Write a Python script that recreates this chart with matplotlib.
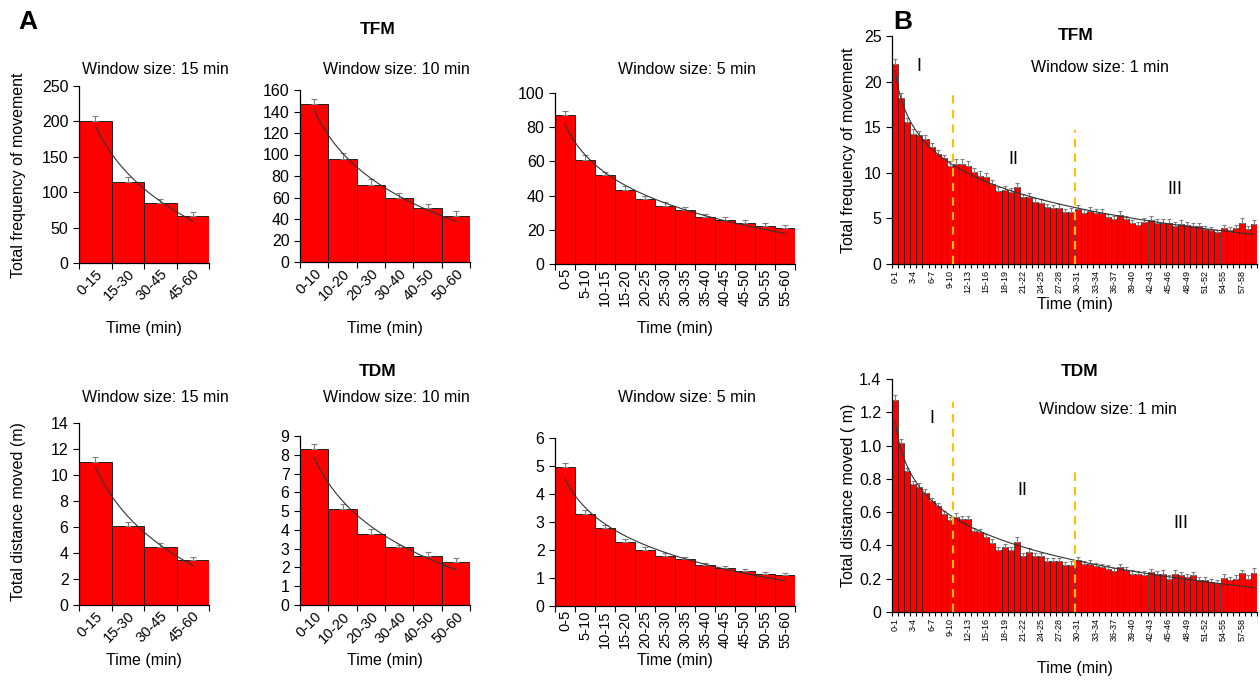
import numpy as np
import matplotlib
matplotlib.use("Agg")
import matplotlib.pyplot as plt

plt.rcParams['font.family'] = ['Liberation Sans', 'DejaVu Sans']

# ---- data: panel A, total frequency of movement (TFM)
tfm15 = [200, 115, 85, 67]
tfm15_err = [7, 7, 6, 5]
tfm10 = [147, 96, 72, 60, 50, 43]
tfm10_err = [5, 5, 5, 4, 4, 4]
tfm5 = [87, 61, 52, 43.5, 38, 34, 31.5, 27.5, 25.5, 24, 22, 21]
tfm5_err = [2.5, 2.5, 2, 2, 2, 2, 2, 1.5, 2, 2, 2, 2]

# ---- data: panel A, total distance moved (TDM)
tdm15 = [11.0, 6.1, 4.5, 3.5]
tdm15_err = [0.4, 0.3, 0.3, 0.2]
tdm10 = [8.3, 5.1, 3.8, 3.1, 2.6, 2.3]
tdm10_err = [0.3, 0.3, 0.25, 0.12, 0.2, 0.2]
tdm5 = [4.95, 3.3, 2.8, 2.3, 2.0, 1.8, 1.68, 1.47, 1.36, 1.26, 1.15, 1.1]
tdm5_err = [0.15, 0.12, 0.1, 0.1, 0.1, 0.08, 0.08, 0.06, 0.07, 0.07, 0.07, 0.07]

lab15 = ['0-15', '15-30', '30-45', '45-60']
lab10 = ['0-10', '10-20', '20-30', '30-40', '40-50', '50-60']
lab5 = ['0-5', '5-10', '10-15', '15-20', '20-25', '25-30', '30-35',
        '35-40', '40-45', '45-50', '50-55', '55-60']

# ---- data: panel B, 1 min windows
tfm1 = [21.9, 18.2, 15.6, 14.3, 14.1, 13.7, 12.8, 12.1, 11.6, 10.8,
        11.0, 11.0, 10.8, 10.1, 9.7, 9.5, 8.8, 8.0, 8.1, 7.9,
        8.4, 7.3, 7.3, 6.8, 6.7, 6.2, 6.1, 6.1, 5.7, 5.7,
        6.0, 5.6, 5.8, 5.6, 5.6, 5.1, 4.9, 5.4, 4.9, 4.55,
        4.3, 4.66, 4.85, 4.55, 4.48, 4.55, 4.19, 4.41, 4.3, 4.19,
        4.19, 3.83, 3.75, 3.46, 3.94, 3.75, 3.94, 4.55, 3.83, 4.4]
tfm1_err = [0.6, 0.5, 0.45, 0.5, 0.5, 0.45, 0.45, 0.45, 0.4, 0.45,
            0.5, 0.55, 0.5, 0.45, 0.45, 0.5, 0.45, 0.45, 0.45, 0.4,
            0.5, 0.4, 0.45, 0.4, 0.4, 0.35, 0.4, 0.45, 0.35, 0.4,
            0.45, 0.4, 0.45, 0.4, 0.4, 0.35, 0.35, 0.4, 0.35, 0.3,
            0.35, 0.35, 0.45, 0.35, 0.4, 0.35, 0.4, 0.4, 0.35, 0.35,
            0.35, 0.35, 0.3, 0.3, 0.35, 0.35, 0.35, 0.45, 0.35, 0.45]
tdm1 = [1.275, 1.014, 0.848, 0.767, 0.753, 0.717, 0.667, 0.637, 0.589, 0.552,
        0.572, 0.556, 0.556, 0.486, 0.478, 0.448, 0.416, 0.372, 0.388, 0.372,
        0.422, 0.336, 0.362, 0.336, 0.336, 0.307, 0.307, 0.307, 0.281, 0.285,
        0.311, 0.287, 0.291, 0.275, 0.271, 0.261, 0.247, 0.271, 0.251, 0.231,
        0.227, 0.225, 0.241, 0.227, 0.231, 0.201, 0.231, 0.221, 0.211, 0.221,
        0.191, 0.191, 0.181, 0.175, 0.207, 0.191, 0.201, 0.235, 0.201, 0.235]
tdm1_err = [0.03, 0.025, 0.02, 0.02, 0.02, 0.02, 0.02, 0.02, 0.02, 0.02,
            0.02, 0.02, 0.02, 0.02, 0.02, 0.02, 0.02, 0.02, 0.02, 0.02,
            0.03, 0.02, 0.02, 0.02, 0.02, 0.02, 0.02, 0.02, 0.02, 0.02,
            0.02, 0.02, 0.02, 0.02, 0.02, 0.02, 0.02, 0.02, 0.02, 0.02,
            0.02, 0.02, 0.02, 0.02, 0.02, 0.02, 0.02, 0.02, 0.02, 0.02,
            0.02, 0.02, 0.02, 0.02, 0.02, 0.02, 0.02, 0.02, 0.02, 0.03]
lab1 = ['%d-%d' % (i, i + 1) for i in range(60)]

W, H = 1260, 681
fig = plt.figure(figsize=(W / 100, H / 100), dpi=100)


def px_axes(x0, y0, x1, y1):
    return fig.add_axes([x0 / W, 1 - y1 / H, (x1 - x0) / W, (y1 - y0) / H])


def ftext(x, y, s, **kw):
    fig.text(x / W, 1 - y / H, s, ha='center', va='center', **kw)


def bar_panel(ax, vals, errs, labels, ymax, ystep, rot, fs, every=1,
              lw=0.7, cap=2.5, tick_len=4, pad=3):
    n = len(vals)
    x = np.arange(n)
    ax.bar(x, vals, width=1.0, color='#ff0000', edgecolor='#222222',
           linewidth=lw, zorder=2)
    ax.errorbar(x, vals, yerr=[np.zeros(n), errs], fmt='none',
                ecolor='#7f7f7f', elinewidth=0.8, capsize=cap, capthick=0.8,
                zorder=3)
    # logarithmic trend line
    b, a = np.polyfit(np.log(x + 1), vals, 1)
    xf = np.linspace(1, n, 200)
    ax.plot(xf - 1, a + b * np.log(xf), color='#333333', lw=0.8, zorder=4)
    ax.set_xlim(-0.5, n - 0.5)
    ax.set_ylim(0, ymax)
    ax.set_yticks(np.arange(0, ymax + ystep / 2, ystep))
    ax.set_xticks(x[::every])
    if rot == 45:
        ax.set_xticklabels(labels[::every], rotation=45, ha='right',
                           rotation_mode='anchor', fontsize=fs)
    else:
        ax.set_xticklabels(labels[::every], rotation=90, fontsize=fs)
    ax.set_xticks(np.arange(n + 1) - 0.5, minor=True)
    ax.tick_params(axis='x', which='major', length=0, pad=pad)
    ax.tick_params(axis='x', which='minor', length=tick_len, width=0.8,
                   direction='out')
    ax.tick_params(axis='y', length=4, width=0.8, labelsize=11.5)
    for s in ['top', 'right']:
        ax.spines[s].set_visible(False)
    for s in ['left', 'bottom']:
        ax.spines[s].set_linewidth(0.9)


# ---- panel A row 1 (TFM)
ax = px_axes(79, 86, 209, 263)
bar_panel(ax, tfm15, tfm15_err, lab15, 250, 50, 45, 10.5)
ax = px_axes(300, 90, 470, 262)
bar_panel(ax, tfm10, tfm10_err, lab10, 160, 20, 45, 10.5)
ax = px_axes(555, 93, 795, 264)
bar_panel(ax, tfm5, tfm5_err, lab5, 100, 20, 90, 10.5)

# ---- panel A row 2 (TDM)
ax = px_axes(79, 423, 209, 605)
bar_panel(ax, tdm15, tdm15_err, lab15, 14, 2, 45, 10.5)
ax = px_axes(300, 436, 470, 605)
bar_panel(ax, tdm10, tdm10_err, lab10, 9, 1, 45, 10.5)
ax = px_axes(555, 438, 795, 606)
bar_panel(ax, tdm5, tdm5_err, lab5, 6, 1, 90, 10.5)

# ---- panel B
ax = px_axes(892, 36, 1257, 264)
bar_panel(ax, tfm1, tfm1_err, lab1, 25, 5, 90, 6.5, every=3, lw=0.5, cap=1.5,
          tick_len=3, pad=4)
ax.plot([9.5, 9.5], [0, 18.5], ls=(0, (4, 3)), color='#ffc000', lw=1.5, zorder=5)
ax.plot([29.5, 29.5], [0, 14.7], ls=(0, (4, 3)), color='#ffc000', lw=1.5, zorder=5)
ax.text(4, 21.7, 'I', fontsize=13, ha='center', va='center')
ax.text(19.5, 11.5, 'II', fontsize=13, ha='center', va='center')
ax.text(46, 8.2, 'III', fontsize=13, ha='center', va='center')

ax = px_axes(892, 379, 1257, 612)
bar_panel(ax, tdm1, tdm1_err, lab1, 1.4, 0.2, 90, 6.5, every=3, lw=0.5, cap=1.5,
          tick_len=3, pad=4)
ax.set_yticklabels(['0', '0.2', '0.4', '0.6', '0.8', '1.0', '1.2', '1.4'])
ax.plot([9.5, 9.5], [0, 1.26], ls=(0, (4, 3)), color='#ffc000', lw=1.5, zorder=5)
ax.plot([29.5, 29.5], [0, 0.85], ls=(0, (4, 3)), color='#ffc000', lw=1.5, zorder=5)
ax.text(6, 1.16, 'I', fontsize=13, ha='center', va='center')
ax.text(21, 0.73, 'II', fontsize=13, ha='center', va='center')
ax.text(47, 0.53, 'III', fontsize=13, ha='center', va='center')

# ---- texts
ftext(28, 22, 'A', fontsize=19, fontweight='bold')
ftext(903, 22, 'B', fontsize=19, fontweight='bold')
ftext(378, 30, 'TFM', fontsize=12.5, fontweight='bold')
ftext(378, 372, 'TDM', fontsize=12.5, fontweight='bold')
ftext(1076, 35, 'TFM', fontsize=12.5, fontweight='bold')
ftext(1080, 372, 'TDM', fontsize=12.5, fontweight='bold')

for cx, s in [(155, '15'), (396, '10'), (687, '5')]:
    ftext(cx, 70, 'Window size: %s min' % s, fontsize=11.5)
    ftext(cx, 398, 'Window size: %s min' % s, fontsize=11.5)
ftext(1100, 67, 'Window size: 1 min', fontsize=11.5)
ftext(1108, 410, 'Window size: 1 min', fontsize=11.5)

for cx in [144, 385, 675]:
    ftext(cx, 328, 'Time (min)', fontsize=11.5)
    ftext(cx, 660, 'Time (min)', fontsize=11.5)
ftext(1075, 304, 'Time (min)', fontsize=11.5)
ftext(1075, 668, 'Time (min)', fontsize=11.5)

ftext(19, 175, 'Total frequency of movement', fontsize=11.5, rotation=90)
ftext(19, 512, 'Total distance moved (m)', fontsize=11.5, rotation=90)
ftext(848, 150, 'Total frequency of movement', fontsize=11.5, rotation=90)
ftext(848, 495, 'Total distance moved ( m)', fontsize=11.5, rotation=90)

fig.savefig('out.png', dpi=100)
